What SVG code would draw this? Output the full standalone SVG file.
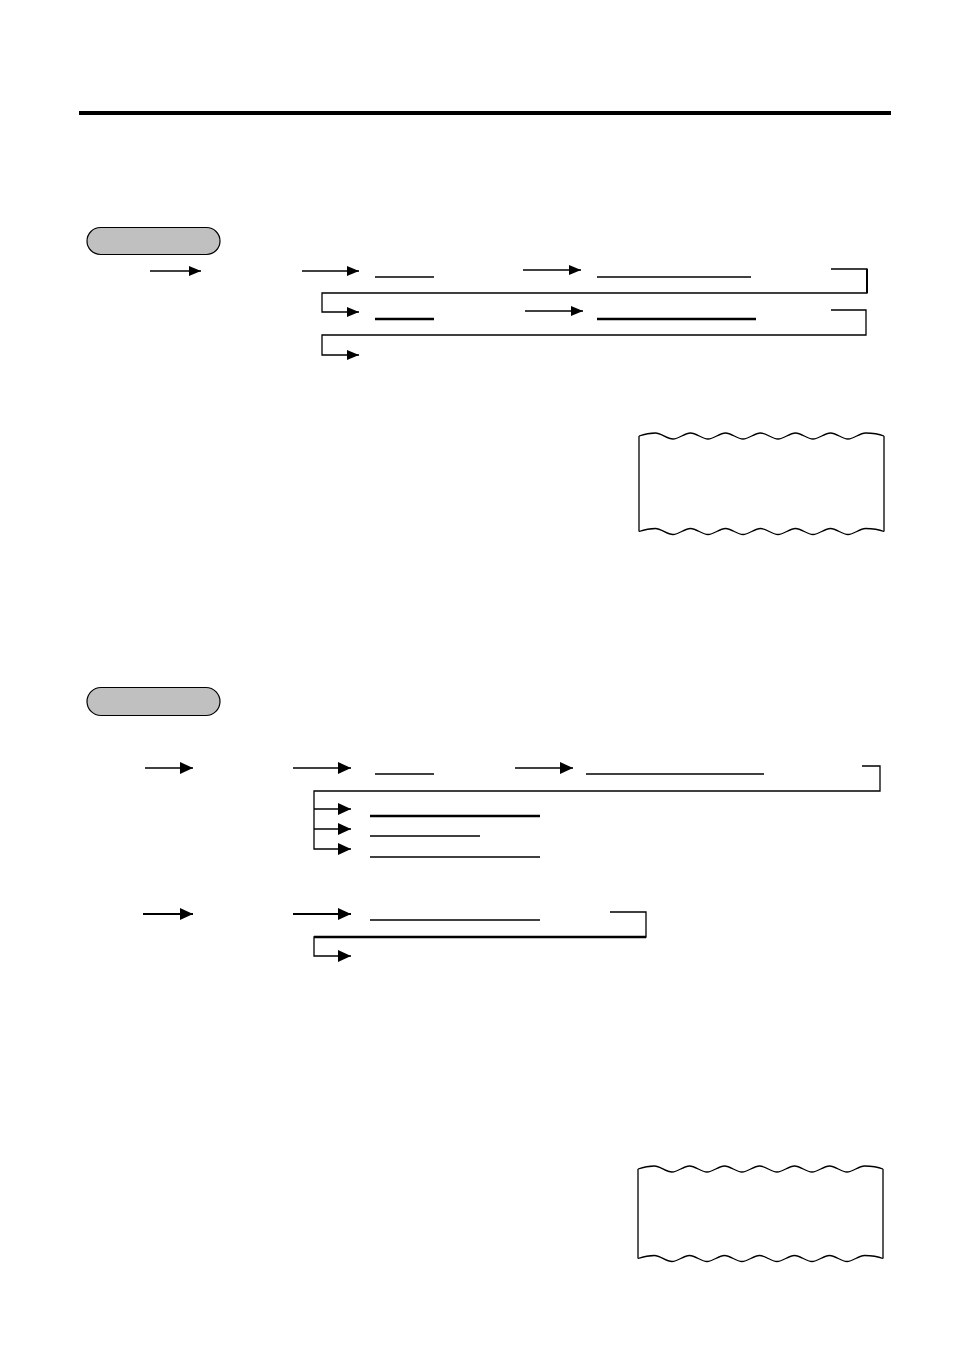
<svg xmlns="http://www.w3.org/2000/svg" xmlns:xlink="http://www.w3.org/1999/xlink" width="954" height="1350" viewBox="0 0 954 1350">
<style>
.ln{stroke:#000;stroke-width:1.3;fill:none}
.ln2{stroke:#000;stroke-width:2;fill:none}
.ln3{stroke:#000;stroke-width:2.6;fill:none}
.ul{stroke:#000;stroke-width:1.3}
.ulb{stroke:#000;stroke-width:2.4}
.pill{fill:#c0c0c0;stroke:#000;stroke-width:1.2}
.wave{fill:none;stroke:#000;stroke-width:1.3}
</style>
<defs>
<marker id="ah" markerUnits="userSpaceOnUse" markerWidth="12" markerHeight="10" refX="12" refY="5" orient="auto"><path d="M0,0 L12,5 L0,10 z" fill="#000"/></marker>
<marker id="ah2" markerUnits="userSpaceOnUse" markerWidth="13" markerHeight="12" refX="13" refY="6" orient="auto"><path d="M0,0 L13,6 L0,12 z" fill="#000"/></marker>
<path id="wave" d="M639,436 C645,434 650,433 655.5,433 S667,439 673,439 S684.5,433 690.5,433 S702,439 708,439 S719.5,433 725.5,433 S737,439 743,439 S754.5,433 760.5,433 S772,439 778,439 S789.5,433 795.5,433 S807,439 813,439 S824.5,433 830.5,433 S842,439 848,439 S859.5,433 865.5,433 S879,434 884,436"/>
</defs>
<rect width="954" height="1350" fill="#fff"/>
<g id="top-rule"><rect x="79" y="111" width="812" height="4" fill="#000"/></g>
<g id="pill-1"><rect class="pill" x="87" y="227.5" width="133" height="27" rx="13.5"/></g>
<g id="pill-2"><rect class="pill" x="87" y="687.5" width="133" height="28" rx="14"/></g>
<g id="paper-1">
<use xlink:href="#wave" class="wave"/>
<use xlink:href="#wave" class="wave" transform="translate(0,95.5)"/>
<line class="ln" x1="639" y1="436" x2="639" y2="531.5"/>
<line class="ln" x1="884" y1="436" x2="884" y2="531.5"/>
</g>
<g id="paper-2" transform="translate(-1,733)">
<use xlink:href="#wave" class="wave"/>
<use xlink:href="#wave" class="wave" transform="translate(0,89.5)"/>
<line class="ln" x1="639" y1="436" x2="639" y2="525.5"/>
<line class="ln" x1="884" y1="436" x2="884" y2="525.5"/>
</g>
<g id="blanks">
<line class="ul" x1="375" y1="277" x2="434" y2="277"/>
<line class="ul" x1="597" y1="277" x2="751" y2="277"/>
<line class="ulb" x1="375" y1="319" x2="434" y2="319"/>
<line class="ulb" x1="597" y1="319" x2="756" y2="319"/>
<line class="ul" x1="375" y1="774" x2="434" y2="774"/>
<line class="ul" x1="586" y1="774" x2="764" y2="774"/>
<line class="ulb" x1="370" y1="816" x2="540" y2="816"/>
<line class="ul" x1="370" y1="836" x2="480" y2="836"/>
<line class="ul" x1="370" y1="857" x2="540" y2="857"/>
<line class="ul" x1="370" y1="920" x2="540" y2="920"/>
</g>
<g id="connectors">
<line class="ln" x1="150" y1="271" x2="201" y2="271" marker-end="url(#ah)"/>
<line class="ln" x1="302" y1="271" x2="359" y2="271" marker-end="url(#ah)"/>
<line class="ln" x1="523" y1="270" x2="581" y2="270" marker-end="url(#ah)"/>
<polyline class="ln" points="831,269 867,269 867,293 322,293 322,312 359,312" marker-end="url(#ah)"/>
<line class="ln2" x1="867" y1="269" x2="867" y2="293"/>
<line class="ln" x1="525" y1="311" x2="583" y2="311" marker-end="url(#ah)"/>
<polyline class="ln" points="831,310 866,310 866,335 322,335 322,355 359,355" marker-end="url(#ah)"/>
<line class="ln" x1="145" y1="768" x2="193" y2="768" marker-end="url(#ah2)"/>
<line class="ln" x1="293" y1="768" x2="351" y2="768" marker-end="url(#ah2)"/>
<line class="ln" x1="515" y1="768" x2="573" y2="768" marker-end="url(#ah2)"/>
<polyline class="ln" points="862,766 880,766 880,791 314,791 314,849 351,849" marker-end="url(#ah2)"/>
<line class="ln" x1="314" y1="809" x2="351" y2="809" marker-end="url(#ah2)"/>
<line class="ln" x1="314" y1="829" x2="351" y2="829" marker-end="url(#ah2)"/>
<line class="ln2" x1="143" y1="914" x2="193" y2="914" marker-end="url(#ah2)"/>
<line class="ln2" x1="293" y1="914" x2="351" y2="914" marker-end="url(#ah2)"/>
<polyline class="ln" points="610,912 646,912 646,937 314,937 314,956 351,956" marker-end="url(#ah2)"/>
<line class="ln3" x1="314" y1="937" x2="646" y2="937"/>
</g>
</svg>
